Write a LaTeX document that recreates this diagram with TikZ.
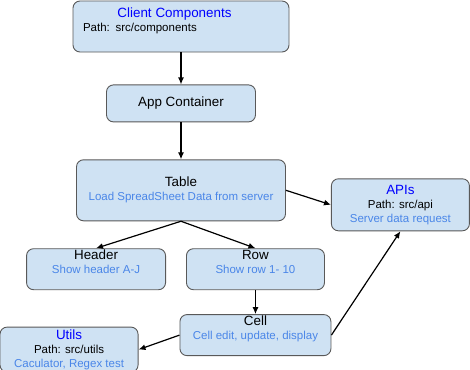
\documentclass[tikz,border=0pt]{standalone}
\usepackage{fontspec}
\setmainfont{Liberation Sans}
\usepackage{xcolor}
\usetikzlibrary{arrows.meta,positioning}
\definecolor{modfill}{HTML}{CFE2F3}
\definecolor{modline}{HTML}{595959}
\definecolor{modblue}{HTML}{0000FF}
\definecolor{noteblue}{HTML}{4A86E8}
\newcommand{\modtitle}[1]{{\fontsize{13.4}{15}\selectfont\color{modblue}#1}}
\newcommand{\modname}[1]{{\fontsize{13.4}{15}\selectfont #1}}
\newcommand{\modnote}[1]{{\color{noteblue}#1}}
\tikzset{
  flowarrow/.style={-{Latex[length=7pt,width=6pt]}, line width=1.2pt, draw=black},
  module/.style={draw=modline, line width=0.9pt, rounded corners=7pt, fill=modfill,
    align=center, inner xsep=4pt, inner ysep=1pt, font=\fontsize{11.5}{14}\selectfont},
  % text sits in the upper part of the box
  topped/.style={text depth=15pt}
}

\begin{document}
\begin{tikzpicture}[x=1pt,y=1pt]
        \useasboundingbox (0,0) rectangle (470,-369);

        \node[module, minimum width=216pt, minimum height=51pt, text width=196pt, align=left] (client) at (181,-26.5)
          {\makebox[183pt]{\modtitle{Client Components}}\\Path: src/components\\\mbox{}};
        \node[module, below=32pt of client, minimum width=149pt, minimum height=37pt] (app) {\modname{App Container}};
        \node[module, below=37pt of app, minimum width=209pt, minimum height=61pt] (table)
          {\modname{Table}\\\modnote{Load SpreadSheet Data from server}};
        \node[module, right=45pt of table, yshift=-14.5pt, minimum width=138pt, minimum height=52pt] (apis)
          {\modtitle{APIs}\\Path: src/api\\\modnote{Server data request}};

        \node[module, topped, below left=27pt and 15pt of table.south, minimum width=139pt, minimum height=41pt] (header)
          {\modname{Header}\\\modnote{Show header A-J}};
        \node[module, topped, right=20pt of header, minimum width=138pt, minimum height=41pt] (row)
          {\modname{Row}\\\modnote{Show row 1- 10}};
        \node[module, topped, below=24pt of row, minimum width=151pt, minimum height=41pt] (cell)
          {\modname{Cell}\\\modnote{Cell edit, update, display}};
        \node[module, left=41pt of cell, yshift=-14.5pt, minimum width=138pt, minimum height=45pt] (utils)
          {\modtitle{Utils}\\Path: src/utils\\\modnote{Caculator, Regex test}};

        \draw[flowarrow] (client) -- (app);
        \draw[flowarrow] (app) -- (table);
        \draw[flowarrow] (table.east) -- (apis.west);
        \draw[flowarrow] (table.south) -- (header.north);
        \draw[flowarrow] (table.south) -- (row.north);
        \draw[flowarrow] (row) -- (cell);
        \draw[flowarrow] (cell.west) -- (utils.east);
        \draw[flowarrow] (cell.east) -- (apis.south);
    \end{tikzpicture}
\end{document}
